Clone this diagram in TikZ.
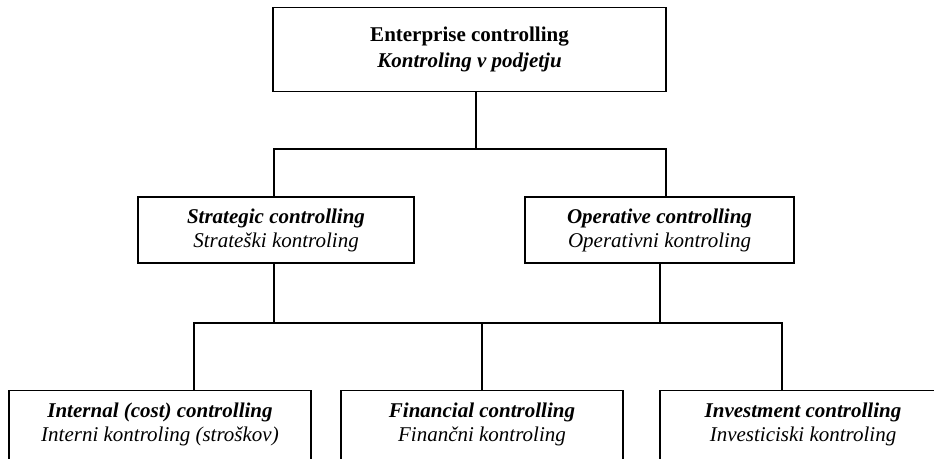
\documentclass[tikz,border=0pt]{standalone}
\usepackage{fontspec}
\setmainfont{Liberation Serif}
\usepackage{tikz}

\begin{document}
\begin{tikzpicture}[x=1pt, y=-1pt, line width=1.2pt,
	box/.style={draw, align=center, inner sep=0pt, font=\fontsize{21}{24}\selectfont},
	open/.style={box, anchor=north, inner ysep=14pt, text height=37pt, text depth=40pt}]
	\clip (0,0) rectangle (934,458);
	\node[box, minimum width=393pt, minimum height=84pt] (top) at (469.5,49.5) {\textbf{Enterprise controlling}\\[2pt]\textbf{\textit{Kontroling v podjetju}}};
	\node[box, minimum width=276pt, minimum height=66pt] (strat) at (276,230) {\textbf{\textit{Strategic controlling}}\\\textit{Strateški kontroling}};
	\node[box, minimum width=269pt, minimum height=66pt] (oper) at (659.5,230) {\textbf{\textit{Operative controlling}}\\\textit{Operativni kontroling}};
	\node[open, minimum width=302pt] (int) at (160,390) {\textbf{\textit{Internal (cost) controlling}}\\\textit{Interni kontroling (stroškov)}};
	\node[open, minimum width=282pt] (fin) at (482,390) {\textbf{\textit{Financial controlling}}\\\textit{Finančni kontroling}};
	\node[open, minimum width=286pt] (inv) at (803,390) {\textbf{\textit{Investment controlling}}\\\textit{Investiciski kontroling}};
	\draw ([xshift=6.5pt]top.south) -- ++(0,58);
	\draw ([xshift=-2pt]strat.north) -- ++(0,-47.5) -| ([xshift=6.5pt]oper.north);
	\draw ([xshift=-2pt]strat.south) -- ++(0,60);
	\draw ([xshift=0.5pt]oper.south) -- ++(0,60);
	\draw ([xshift=34pt]int.north) -- ++(0,-67) -| ([xshift=-21pt]inv.north);
	\draw (fin.north) -- ++(0,-67);
\end{tikzpicture}
\end{document}
